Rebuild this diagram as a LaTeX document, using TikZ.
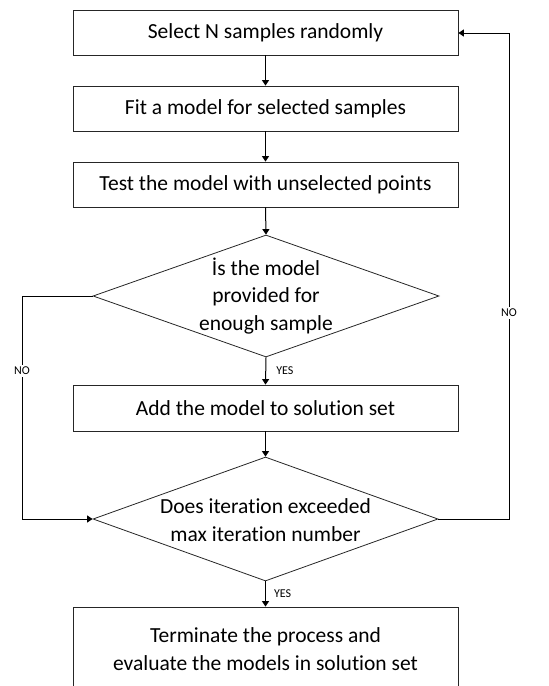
\documentclass[tikz,border=0pt]{standalone}
\usepackage{fontspec}
\setmainfont{Carlito}[Ligatures=NoCommon]
\usetikzlibrary{arrows.meta,shapes.geometric}
\begin{document}
\begin{tikzpicture}[x=1pt,y=-1pt,
  stepbox/.style={draw=black!85,line width=0.8pt,minimum width=385pt,inner sep=0pt,
    font=\fontsize{21.5}{28}\selectfont,align=center},
  dia/.style={draw=black!85,line width=0.8pt,diamond,inner sep=0pt,
    minimum width=346pt,minimum height=122pt,aspect=2.84},
  diatext/.style={font=\fontsize{21.5}{27.5}\selectfont,align=center,inner sep=0pt},
  flow/.style={draw=black,line width=1pt,-{Triangle[length=5.5pt,width=7pt]}},
  tag/.style={font=\fontsize{12}{14}\selectfont,inner sep=1pt}]
\useasboundingbox (0,0) rectangle (549,686);

% process steps
\node[stepbox,minimum height=45pt] (s1) at (265.5,32.5) {Select N samples randomly};
\node[stepbox,minimum height=45pt] (s2) at (265.5,108.5) {Fit a model for selected samples};
\node[stepbox,minimum height=45pt] (s3) at (265.5,184.5) {Test the model with unselected points};

% first decision
\node[dia] (d1) at (266,296) {};
\node[diatext] at (d1.center) {İs the model\\provided for\\enough sample};

\node[stepbox,minimum height=46pt] (s4) at (265.5,408) {Add the model to solution set};

% second decision
\node[dia,minimum height=124pt,minimum width=345pt] (d2) at (265.5,519) {};
\node[diatext] at ([yshift=-1pt]d2.center) {Does iteration exceeded\\max iteration number};

% final step (runs past the lower edge)
\node[stepbox,minimum height=85pt] (s5) at (265.5,649.5) {Terminate the process and\\evaluate the models in solution set};

% main flow
\draw[flow] (s1.south) -- (s2.north);
\draw[flow] (s2.south) -- (s3.north);
\draw[flow] (s3.south) -- (d1.north);
\draw[flow] (d1.south) -- node[tag,right,xshift=9pt] {YES} (s4.north);
\draw[flow] (s4.south) -- (d2.north);
\draw[flow] (d2.south) -- node[tag,right,xshift=7pt] {YES} (s5.north);

% loops
\coordinate (l1) at (22,296);
\coordinate (l2) at (22,519);
\draw[flow] (d1.west) -- (l1) -- (l2) -- (d2.west);
\node[tag,fill=white,inner sep=2pt] at (22,371) {NO};

\coordinate (r1) at (509,519);
\coordinate (r2) at (509,33);
\draw[flow] (d2.east) -- (r1) -- (r2) -- (s1.east |- r2);
\node[tag,fill=white,inner sep=2pt] at (509,313) {NO};
\end{tikzpicture}
\end{document}
